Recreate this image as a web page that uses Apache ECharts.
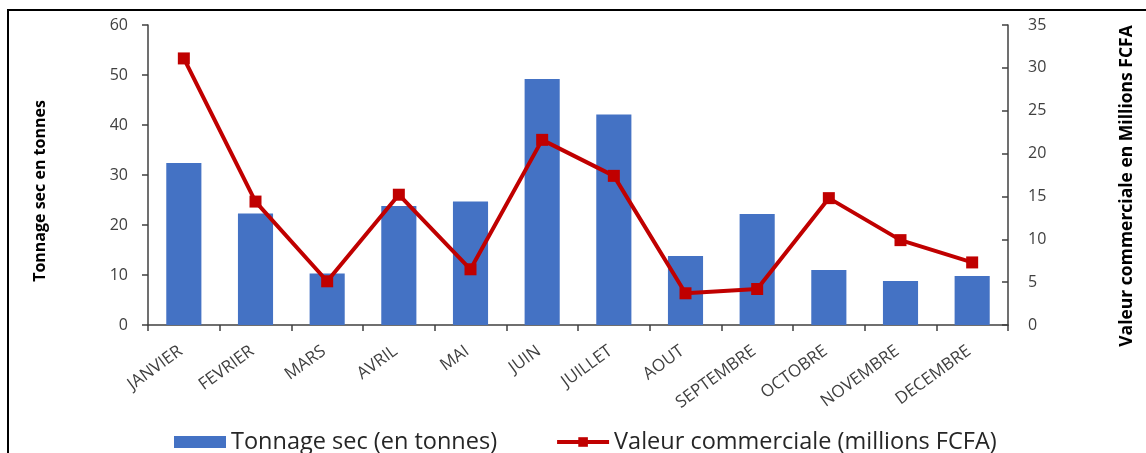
<!DOCTYPE html>
<html>
<head>
<meta charset="utf-8">
<script src="https://cdn.jsdelivr.net/npm/echarts@6/dist/echarts.min.js"></script>
<style>html,body{margin:0;padding:0;background:#fff;}#c{width:1146px;height:453px;}</style>
</head>
<body>
<div id="c"></div>
<script>
const categories = ['JANVIER','FEVRIER','MARS','AVRIL','MAI','JUIN','JUILLET','AOUT','SEPTEMBRE','OCTOBRE','NOVEMBRE','DECEMBRE'];
const tonnage = [32.4, 22.3, 10.3, 23.8, 24.7, 49.2, 42.1, 13.8, 22.2, 11.0, 8.8, 9.8];
const valeur = [31.1, 14.4, 5.1, 15.2, 6.5, 21.6, 17.4, 3.7, 4.2, 14.8, 9.9, 7.3];
const leftTicks = {min: 0, max: 60, interval: 10};
const rightTicks = {min: 0, max: 35, interval: 5};
const names = ['Tonnage sec (en tonnes)', 'Valeur commerciale (millions FCFA)'];
const axisNames = ['Tonnage sec en tonnes', 'Valeur commerciale en Millions FCFA'];

const chart = echarts.init(document.getElementById('c'));
const FONT = "'Open Sans', sans-serif";
const axisLine = {show: true, lineStyle: {color: '#404040', width: 1.5}};
const tick = {color: '#404040', width: 1.5};
chart.setOption({
  animation: false,
  backgroundColor: '#fff',
  graphic: [{
    type: 'rect', silent: true,
    shape: {x: 8, y: 10, width: 1200, height: 500},
    style: {fill: 'none', stroke: '#000', lineWidth: 2}
  }, {
    type: 'text', silent: true, x: 40, y: 191, rotation: Math.PI / 2,
    style: {text: axisNames[0], fontFamily: FONT, fontWeight: 'bold', fontSize: 16, fill: '#000', align: 'center', verticalAlign: 'middle'}
  }, {
    type: 'text', silent: true, x: 1127, y: 186, rotation: Math.PI / 2,
    style: {text: axisNames[1], fontFamily: FONT, fontWeight: 'bold', fontSize: 17.5, fill: '#000', align: 'center', verticalAlign: 'middle'}
  }],
  grid: {left: 148, right: 138, top: 25, bottom: 128},
  legend: {
    top: 425, left: 169,
    itemGap: 58, itemWidth: 52, itemHeight: 12,
    textStyle: {fontFamily: FONT, fontSize: 23.5, color: '#262626'},
    data: [
      {name: names[0], icon: 'rect'},
      {name: names[1], lineStyle: {width: 4, color: '#C00000'}}
    ]
  },
  xAxis: {
    type: 'category', data: categories,
    axisLine: axisLine,
    axisTick: {show: true, length: 6, lineStyle: tick},
    axisLabel: {rotate: 36, interval: 0, fontFamily: FONT, fontSize: 17, color: '#404040', margin: 22, padding: [0, 4, 0, 0]}
  },
  yAxis: [{
    type: 'value', min: leftTicks.min, max: leftTicks.max, interval: leftTicks.interval,
    axisLine: axisLine,
    axisTick: {show: true, length: 6, lineStyle: tick},
    splitLine: {show: false},
    axisLabel: {fontFamily: FONT, fontSize: 16, color: '#404040', margin: 20}
  }, {
    type: 'value', position: 'right', min: rightTicks.min, max: rightTicks.max, interval: rightTicks.interval,
    axisLine: axisLine,
    axisTick: {show: true, inside: true, length: 6, lineStyle: tick},
    splitLine: {show: false},
    axisLabel: {fontFamily: FONT, fontSize: 16, color: '#404040', margin: 20}
  }],
  series: [{
    name: names[0], type: 'bar', data: tonnage, yAxisIndex: 0,
    barWidth: '49%', itemStyle: {color: '#4472C4'}
  }, {
    name: names[1], type: 'line', data: valeur, yAxisIndex: 1,
    symbol: 'rect', symbolSize: 12,
    lineStyle: {color: '#C00000', width: 4},
    itemStyle: {color: '#C00000'}
  }]
});
</script>
</body>
</html>
